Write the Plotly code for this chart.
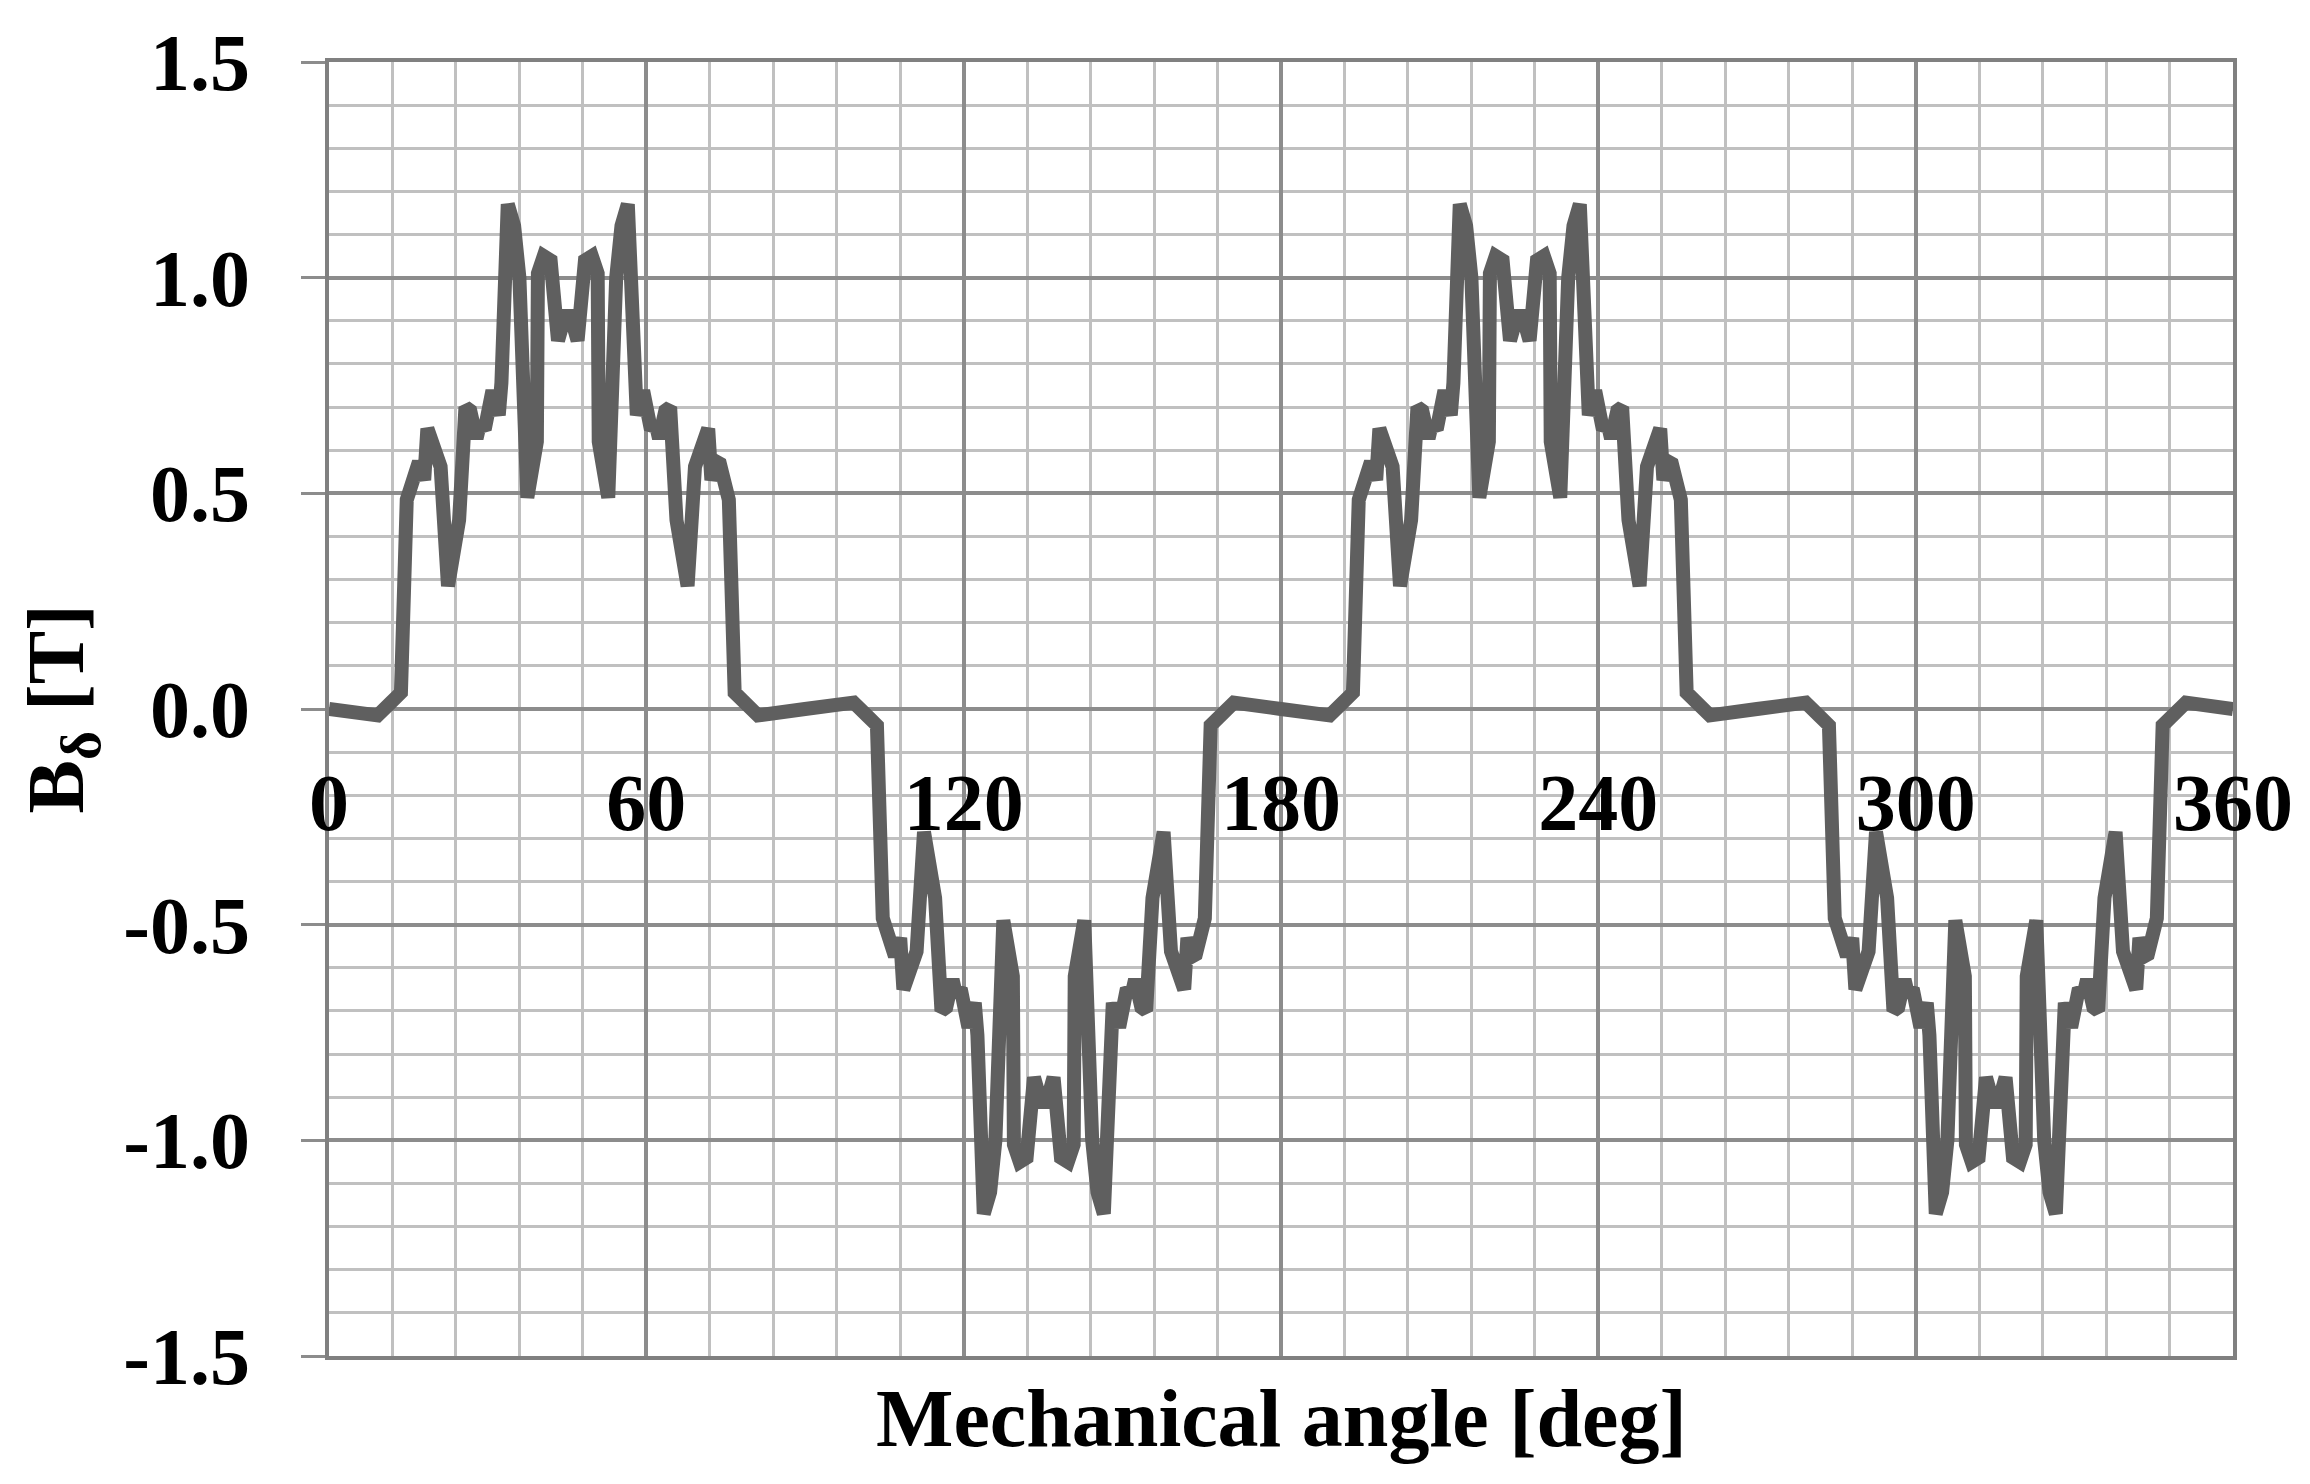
import plotly.graph_objects as go

# Air-gap flux density, one pole at a time
angle_p1 = [0.0, 9.2, 11.7, 13.6, 14.7, 16.4, 17.0, 18.0, 18.6, 21.1, 22.5, 24.6, 25.8, 26.7, 27.9, 28.4,
            29.6, 30.9, 32.1, 32.6, 33.8, 35.0, 36.0, 37.5, 39.3, 39.5, 40.6, 41.9, 42.9, 43.3, 44.6, 45.7,
            47.0, 47.4, 48.4, 49.7, 50.8, 51.0, 52.8, 54.3, 55.3, 56.5, 57.7, 58.2, 59.4, 60.7, 61.9, 62.4,
            63.6, 64.5, 65.7, 67.8, 69.2, 71.7, 72.3, 73.3, 73.9, 75.6, 76.7, 78.6, 81.1]
b_p1 = [0.000, -0.015, 0.015, 0.038, 0.485, 0.569, 0.573, 0.531, 0.650, 0.562, 0.285, 0.438, 0.700, 0.692,
        0.627, 0.654, 0.658, 0.738, 0.681, 0.756, 1.170, 1.120, 1.000, 0.490, 0.620, 1.010, 1.050, 1.040,
        0.916, 0.854, 0.911, 0.911, 0.854, 0.916, 1.040, 1.050, 1.010, 0.620, 0.490, 1.000, 1.120, 1.170,
        0.756, 0.681, 0.738, 0.658, 0.654, 0.627, 0.692, 0.700, 0.438, 0.285, 0.562, 0.650, 0.531, 0.573,
        0.569, 0.485, 0.038, 0.015, -0.015]

angle_n1 = [90.0, 99.2, 101.7, 103.6, 104.7, 106.4, 107.0, 108.0, 108.6, 111.1, 112.5, 114.6, 115.8, 116.7,
            117.9, 118.4, 119.6, 120.9, 122.1, 122.6, 123.8, 125.0, 126.0, 127.5, 129.3, 129.5, 130.6, 131.9,
            132.9, 133.3, 134.6, 135.7, 137.0, 137.4, 138.4, 139.7, 140.8, 141.0, 142.8, 144.3, 145.3, 146.5,
            147.7, 148.2, 149.4, 150.7, 151.9, 152.4, 153.6, 154.5, 155.7, 157.8, 159.2, 161.7, 162.3, 163.3,
            163.9, 165.6, 166.7, 168.6, 171.1]
b_n1 = [0.000, 0.015, -0.015, -0.038, -0.485, -0.569, -0.573, -0.531, -0.650, -0.562, -0.285, -0.438, -0.700,
        -0.692, -0.627, -0.654, -0.658, -0.738, -0.681, -0.756, -1.170, -1.120, -1.000, -0.490, -0.620, -1.010,
        -1.050, -1.040, -0.916, -0.854, -0.911, -0.911, -0.854, -0.916, -1.040, -1.050, -1.010, -0.620, -0.490,
        -1.000, -1.120, -1.170, -0.756, -0.681, -0.738, -0.658, -0.654, -0.627, -0.692, -0.700, -0.438, -0.285,
        -0.562, -0.650, -0.531, -0.573, -0.569, -0.485, -0.038, -0.015, 0.015]

angle_p2 = [180.0, 189.2, 191.7, 193.6, 194.7, 196.4, 197.0, 198.0, 198.6, 201.1, 202.5, 204.6, 205.8, 206.7,
            207.9, 208.4, 209.6, 210.9, 212.1, 212.6, 213.8, 215.0, 216.0, 217.5, 219.3, 219.5, 220.6, 221.9,
            222.9, 223.3, 224.6, 225.7, 227.0, 227.4, 228.4, 229.7, 230.8, 231.0, 232.8, 234.3, 235.3, 236.5,
            237.7, 238.2, 239.4, 240.7, 241.9, 242.4, 243.6, 244.5, 245.7, 247.8, 249.2, 251.7, 252.3, 253.3,
            253.9, 255.6, 256.7, 258.6, 261.1]
b_p2 = [0.000, -0.015, 0.015, 0.038, 0.485, 0.569, 0.573, 0.531, 0.650, 0.562, 0.285, 0.438, 0.700, 0.692,
        0.627, 0.654, 0.658, 0.738, 0.681, 0.756, 1.170, 1.120, 1.000, 0.490, 0.620, 1.010, 1.050, 1.040,
        0.916, 0.854, 0.911, 0.911, 0.854, 0.916, 1.040, 1.050, 1.010, 0.620, 0.490, 1.000, 1.120, 1.170,
        0.756, 0.681, 0.738, 0.658, 0.654, 0.627, 0.692, 0.700, 0.438, 0.285, 0.562, 0.650, 0.531, 0.573,
        0.569, 0.485, 0.038, 0.015, -0.015]

angle_n2 = [270.0, 279.2, 281.7, 283.6, 284.7, 286.4, 287.0, 288.0, 288.6, 291.1, 292.5, 294.6, 295.8, 296.7,
            297.9, 298.4, 299.6, 300.9, 302.1, 302.6, 303.8, 305.0, 306.0, 307.5, 309.3, 309.5, 310.6, 311.9,
            312.9, 313.3, 314.6, 315.7, 317.0, 317.4, 318.4, 319.7, 320.8, 321.0, 322.8, 324.3, 325.3, 326.5,
            327.7, 328.2, 329.4, 330.7, 331.9, 332.4, 333.6, 334.5, 335.7, 337.8, 339.2, 341.7, 342.3, 343.3,
            343.9, 345.6, 346.7, 348.6, 351.1]
b_n2 = [0.000, 0.015, -0.015, -0.038, -0.485, -0.569, -0.573, -0.531, -0.650, -0.562, -0.285, -0.438, -0.700,
        -0.692, -0.627, -0.654, -0.658, -0.738, -0.681, -0.756, -1.170, -1.120, -1.000, -0.490, -0.620, -1.010,
        -1.050, -1.040, -0.916, -0.854, -0.911, -0.911, -0.854, -0.916, -1.040, -1.050, -1.010, -0.620, -0.490,
        -1.000, -1.120, -1.170, -0.756, -0.681, -0.738, -0.658, -0.654, -0.627, -0.692, -0.700, -0.438, -0.285,
        -0.562, -0.650, -0.531, -0.573, -0.569, -0.485, -0.038, -0.015, 0.015]

angle_end = [360.0]
b_end = [0.0]

x_tick_vals = [0, 60, 120, 180, 240, 300, 360]
y_tick_vals = [-1.5, -1.0, -0.5, 0.0, 0.5, 1.0, 1.5]
y_tick_text = ['-1.5', '-1.0', '-0.5', '0.0', '0.5', '1.0', '1.5']

angle = angle_p1 + angle_n1 + angle_p2 + angle_n2 + angle_end
b_gap = b_p1 + b_n1 + b_p2 + b_n2 + b_end

MAJOR = '#8c8c8c'
MINOR = '#c0c0c0'
AXIS = '#808080'
SERIF = 'Liberation Serif'
tick_font = dict(family=SERIF, size=80, color='black', weight='bold')

fig = go.Figure()
fig.add_trace(go.Scatter(x=angle, y=b_gap, mode='lines',
                         line=dict(color='#5f5f5f', width=14), showlegend=False))
# empty trace so the label axis (x2) gets drawn
fig.add_trace(go.Scatter(x=[], y=[], xaxis='x2', yaxis='y', showlegend=False, hoverinfo='skip'))

fig.update_layout(
    width=2310, height=1484,
    margin=dict(l=321, r=85, t=54, b=136),
    paper_bgcolor='white', plot_bgcolor='white',
    xaxis=dict(range=[0, 360], tick0=0, dtick=60, showticklabels=False, ticks='',
               showgrid=True, gridcolor=MAJOR, gridwidth=3.5, zeroline=False,
               minor=dict(dtick=12, showgrid=True, gridcolor=MINOR, gridwidth=3),
               showline=True, linecolor=AXIS, linewidth=4, mirror=True),
    # second x axis only carries the labels, sitting on the B = 0 line
    xaxis2=dict(range=[0, 360], overlaying='x', anchor='free', position=0.5,
                tickvals=x_tick_vals, ticks='', showgrid=False, zeroline=False,
                showline=False, tickfont=tick_font, ticklabelstandoff=40),
    yaxis=dict(range=[-1.5, 1.5], tickvals=y_tick_vals, ticktext=y_tick_text,
               ticks='outside', ticklen=24, tickwidth=3, tickcolor=MAJOR,
               showgrid=True, gridcolor=MAJOR, gridwidth=3.5, zeroline=False,
               minor=dict(dtick=0.1, showgrid=True, gridcolor=MINOR, gridwidth=3),
               showline=True, linecolor=AXIS, linewidth=4, mirror=True,
               tickfont=tick_font, ticklabelstandoff=35),
)

fig.add_annotation(text='Mechanical angle [deg]', xref='paper', yref='paper',
                   x=0.5, y=-0.048, xanchor='center', yanchor='middle', showarrow=False,
                   font=dict(family=SERIF, size=82, color='black', weight='bold'))
fig.add_annotation(text='B<sub>δ</sub> [T]', xref='paper', yref='paper',
                   x=-0.14, y=0.5, xanchor='center', yanchor='middle', textangle=-90,
                   showarrow=False,
                   font=dict(family=SERIF, size=80, color='black', weight='bold'))

fig.write_html("out.html")
